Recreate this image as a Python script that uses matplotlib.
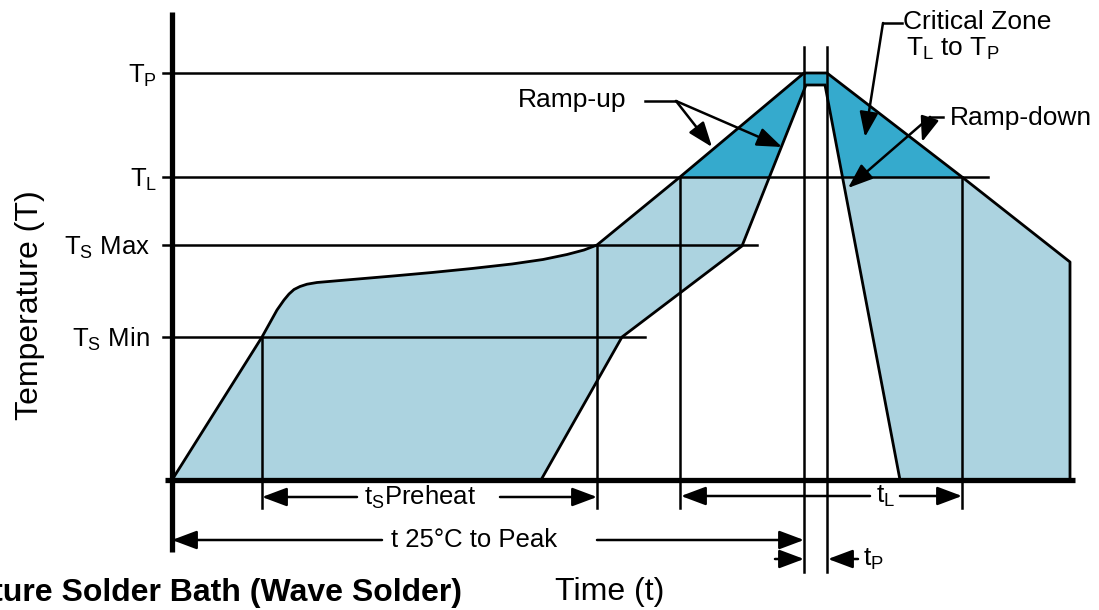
import matplotlib
matplotlib.use("Agg")
import matplotlib.pyplot as plt
from matplotlib.patches import Rectangle

plt.rcParams['font.family'] = ['Liberation Sans', 'DejaVu Sans']
plt.rcParams['mathtext.fontset'] = 'custom'
plt.rcParams['mathtext.rm'] = 'Liberation Sans'

# temperature levels (arbitrary units, baseline = 0)
T_P = 407
T_L = 303
TS_MAX = 235
TS_MIN = 143

# upper (slowest) profile
up_t = [0, 90, 105, 112, 117, 122, 128, 135, 145, 180, 221, 260, 300, 340, 371, 395, 412, 425,
        508, 632, 655, 790, 898, 898]
up_T = [0, 143, 170, 180, 186, 190.5, 193.5, 195.8, 197.5, 200.5, 204, 207.5, 211.5, 216, 220.5, 225.5, 230, 235,
        303, 407, 407, 303, 218, 0]

# lower (fastest) profile
lo_t = [369, 450, 570, 634, 653, 728]
lo_T = [0, 143, 234, 395, 395, 0]

# time markers
t_ts_start = 90
t_ts_end = 425
t_l_start = 508
t_l_end = 790
t_p_start = 632
t_p_end = 655

light = '#acd3e0'
dark = '#35aacd'

fig = plt.figure(figsize=(10.99, 6.10), dpi=100)
ax = fig.add_axes([0, 0, 1, 1])
ax.set_xlim(-172, 927)
ax.set_ylim(-130, 480)
ax.axis('off')

# shaded window between the two profiles
poly_t = up_t + lo_t[::-1]
poly_T = up_T + lo_T[::-1]
ax.fill(poly_t, poly_T, color=light, lw=0, zorder=1)
dk = ax.fill(poly_t, poly_T, color=dark, lw=0, zorder=2)[0]
clip = Rectangle((-172, T_L), 1200, 300, transform=ax.transData)
dk.set_clip_path(clip)

lw = 1.8
ax.plot(up_t, up_T, color='black', lw=2.0, zorder=4, solid_joinstyle='round')
ax.plot(lo_t, lo_T, color='black', lw=2.0, zorder=4, solid_joinstyle='miter')

# level lines with ticks
ax.plot([-9, 632], [T_P, T_P], color='black', lw=lw, zorder=3)
ax.plot([-9, 816], [T_L, T_L], color='black', lw=lw, zorder=3)
ax.plot([-9, 585], [TS_MAX, TS_MAX], color='black', lw=lw, zorder=3)
ax.plot([-9, 473], [TS_MIN, TS_MIN], color='black', lw=lw, zorder=3)

# axes
ax.plot([0, 0], [-72, 468], color='black', lw=3.8, zorder=5, solid_capstyle='butt')
ax.plot([-7, 903], [0, 0], color='black', lw=3.8, zorder=5, solid_capstyle='butt')

# vertical markers
ax.plot([t_ts_start, t_ts_start], [TS_MIN, -28], color='black', lw=lw, zorder=3)
ax.plot([t_ts_end, t_ts_end], [TS_MAX, -28], color='black', lw=lw, zorder=3)
ax.plot([t_l_start, t_l_start], [T_L, -28], color='black', lw=lw, zorder=3)
ax.plot([t_l_end, t_l_end], [T_L, -28], color='black', lw=lw, zorder=3)
ax.plot([t_p_start, t_p_start], [433, -92], color='black', lw=lw, zorder=3)
ax.plot([t_p_end, t_p_end], [433, -92], color='black', lw=lw, zorder=3)


def arrow(tail, head):
    ax.annotate('', xy=head, xytext=tail,
                arrowprops=dict(arrowstyle='-|>,head_length=0.8,head_width=0.3',
                                color='black', lw=lw, shrinkA=0, shrinkB=0,
                                mutation_scale=19), zorder=6)


fs = 19
# dimension arrows
arrow((185, -17), (t_ts_start, -17))
arrow((328, -17), (t_ts_end, -17))
ax.text(248, -17, r'$\mathregular{t_S}$Preheat', fontsize=18.5, ha='center', va='center')

arrow((210, -60), (0, -60))
arrow((425, -60), (t_p_start, -60))
ax.text(302, -60, 't 25°C to Peak', fontsize=18.5, ha='center', va='center')

arrow((698, -16), (t_l_start + 1, -16))
arrow((728, -16), (t_l_end, -16))
ax.text(714, -16, r'$\mathregular{t_L}$', fontsize=fs, ha='center', va='center')

arrow((603, -79), (t_p_start, -79))
arrow((686, -79), (t_p_end + 1, -79))
ax.text(691, -79, r'$\mathregular{t_P}$', fontsize=fs, ha='left', va='center')

# callouts
ax.text(346, 380, 'Ramp-up', fontsize=fs, ha='left', va='center')
ax.plot([473, 504], [379, 379], color='black', lw=lw)
arrow((504, 379), (540, 333))
arrow((504, 379), (610, 333))

ax.text(731, 458, 'Critical Zone', fontsize=fs, ha='left', va='center')
ax.text(734, 424, r'$\mathregular{T_L}$ to $\mathregular{T_P}$', fontsize=fs, ha='left', va='baseline')
ax.plot([730, 711], [457, 457], color='black', lw=lw)
arrow((711, 457), (693, 343))

ax.text(778, 362, 'Ramp-down', fontsize=fs, ha='left', va='center')
ax.plot([771, 758], [363, 363], color='black', lw=lw)
arrow((758, 363), (750, 338))
arrow((758, 363), (676, 292))

# level labels
lf = 18.5
ax.text(-15, T_P - 10, r'$\mathregular{T_P}$', fontsize=lf, ha='right', va='baseline')
ax.text(-15, T_L - 10, r'$\mathregular{T_L}$', fontsize=lf, ha='right', va='baseline')
ax.text(-22, TS_MAX - 10, r'$\mathregular{T_S}$ Max', fontsize=lf, ha='right', va='baseline')
ax.text(-22, TS_MIN - 10, r'$\mathregular{T_S}$ Min', fontsize=lf, ha='right', va='baseline')

ax.text(-142, 175, 'Temperature (T)', fontsize=23, rotation=90, ha='center', va='center')
ax.text(438, -112, 'Time (t)', fontsize=23, ha='center', va='center')
ax.text(290, -113, 'Temperature Solder Bath (Wave Solder)', fontsize=23,
        fontweight='bold', ha='right', va='center')

fig.savefig('out.png', dpi=100)
